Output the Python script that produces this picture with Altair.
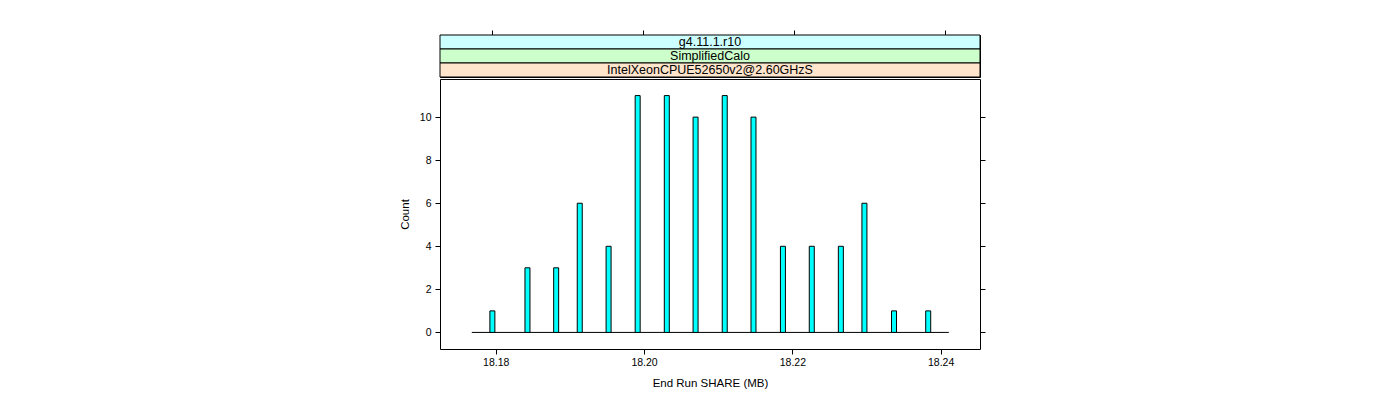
import altair as alt
import pandas as pd

# ---- data ----
share_mb = [18.17955, 18.18428, 18.18815, 18.19133, 18.19522, 18.19914, 18.20307, 18.20695,
            18.21088, 18.21476, 18.21873, 18.22262, 18.22654, 18.22972, 18.23371, 18.23832]
counts = [1, 3, 3, 6, 4, 11, 11, 10, 11, 10, 4, 4, 4, 6, 1, 1]
x_ticks = [18.18, 18.20, 18.22, 18.24]
y_ticks = [0, 2, 4, 6, 8, 10]
x_domain = [18.17316, 18.24463]
y_domain = [-0.77, 11.77]
baseline_range = [18.17677, 18.24110]
strip_labels = ["g4.11.1.r10", "SimplifiedCalo", "IntelXeonCPUE52650v2@2.60GHzS"]
strip_colors = ["#CCFFFF", "#CCFFCC", "#FFE5CC"]

FONT = "Liberation Sans"
W, H, SH = 540, 270, 42

xscale = alt.Scale(domain=x_domain, nice=False, zero=False)
yscale = alt.Scale(domain=y_domain, nice=False, zero=False)

x_axis = alt.Axis(values=x_ticks, format=".2f", title="End Run SHARE (MB)",
                  domain=False, tickSize=5, tickColor="black", labelPadding=3,
                  titlePadding=10)
y_axis = alt.Axis(values=y_ticks, title="Count", domain=False, tickSize=5,
                  tickColor="black", labelPadding=4, titlePadding=9)

df = pd.DataFrame({"share": share_mb, "count": counts})

bars = alt.Chart(df).mark_bar(size=5, color="#00FFFF", stroke="black", strokeWidth=1).encode(
    x=alt.X("share:Q", scale=xscale, axis=x_axis),
    y=alt.Y("count:Q", scale=yscale, axis=y_axis),
    y2=alt.datum(0),
)

base_df = pd.DataFrame({"x0": [baseline_range[0]], "x1": [baseline_range[1]], "y": [0]})
baseline = alt.Chart(base_df).mark_rule(color="black", strokeWidth=1).encode(
    x=alt.X("x0:Q", scale=xscale, axis=x_axis),
    x2="x1:Q",
    y=alt.Y("y:Q", scale=yscale, axis=y_axis),
)

rtick_df = pd.DataFrame({"t": y_ticks})
right_axis = alt.Chart(rtick_df).mark_point(opacity=0).encode(
    y=alt.Y("t:Q", scale=yscale,
            axis=alt.Axis(orient="right", values=y_ticks, labels=False, title=None,
                          domain=False, tickSize=5, tickColor="black")),
)

main = alt.layer(alt.layer(baseline, bars), right_axis).resolve_axis(y="independent").properties(
    width=W, height=H)

strip_df = pd.DataFrame({
    "label": strip_labels,
    "color": strip_colors,
    "y0": [2, 1, 0],
    "y1": [3, 2, 1],
    "ym": [2.5, 1.5, 0.5],
    "x0": [x_domain[0]] * 3,
    "x1": [x_domain[1]] * 3,
})
sy = alt.Scale(domain=[0, 3], nice=False, zero=False)
strip_rect = alt.Chart(strip_df).mark_rect(stroke="black", strokeWidth=1).encode(
    x=alt.X("x0:Q", scale=xscale,
            axis=alt.Axis(orient="top", values=x_ticks, labels=False, title=None,
                          domain=False, tickSize=5, tickColor="black")),
    x2="x1:Q",
    y=alt.Y("y0:Q", scale=sy, axis=None),
    y2="y1:Q",
    fill=alt.Fill("color:N", scale=None),
)
strip_text = alt.Chart(strip_df).mark_text(font=FONT, fontSize=12.5, color="black",
                                           baseline="middle", align="center").encode(
    x=alt.value(W / 2),
    y=alt.Y("ym:Q", scale=sy, axis=None),
    text="label:N",
)
strips = alt.layer(strip_rect, strip_text).properties(width=W, height=SH)

chart = alt.vconcat(strips, main, spacing=0).properties(
    padding={"left": 390, "top": 21, "right": 10, "bottom": 5}
).configure_view(stroke="black", strokeWidth=1).configure_axis(
    labelFont=FONT, labelFontSize=10.5, labelColor="black",
    titleFont=FONT, titleFontSize=11.5, titleFontWeight="normal", titleColor="black",
    grid=False,
)

chart.save("out.html", embed_options={"renderer": "svg", "actions": False})
